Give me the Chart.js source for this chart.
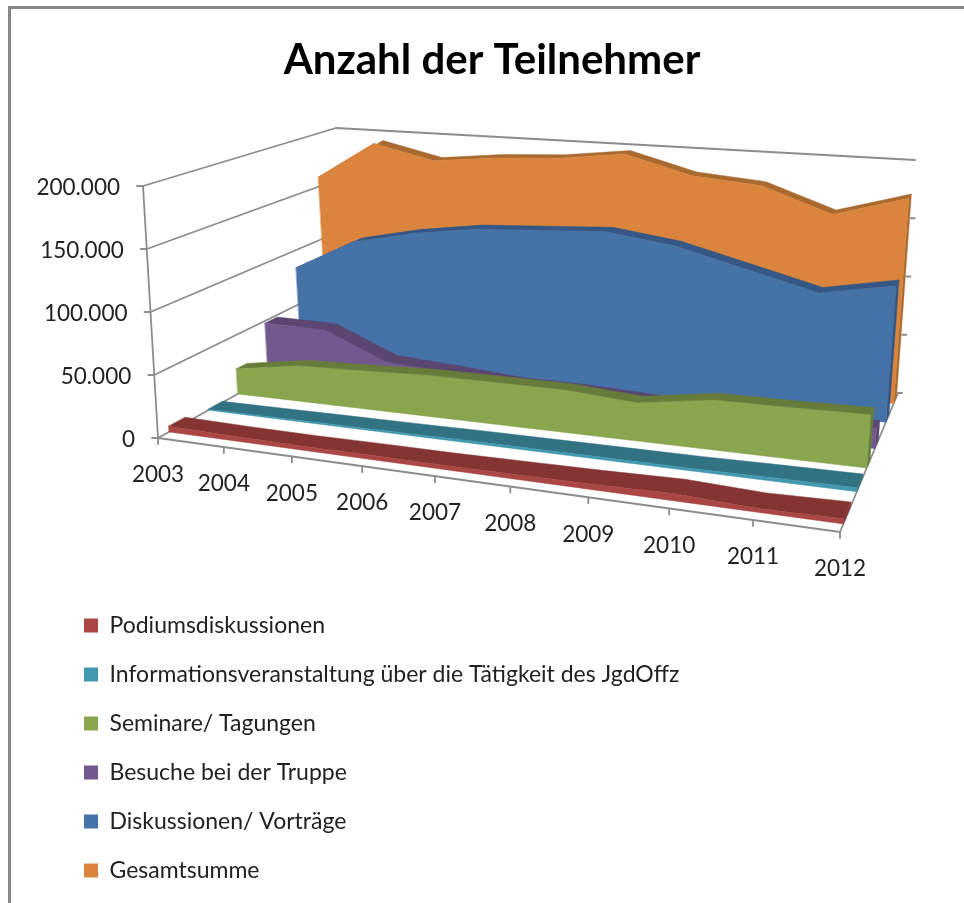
<!DOCTYPE html>
<html>
<head>
<meta charset="utf-8">
<title>Anzahl der Teilnehmer</title>
<script src="https://cdn.jsdelivr.net/npm/chart.js@4"></script>
<style>
  html, body { margin: 0; background: #fff; overflow: hidden; }
  #frame { position: absolute; left: 8px; top: 6px; width: 960px; height: 900px; border-left: 3px solid #888; border-top: 3px solid #888; }
  canvas { position: absolute; left: 0; top: 0; }
</style>
</head>
<body>
<div id="frame"></div>
<canvas id="chart" width="964" height="903"></canvas>
<script>
const years = ['2003', '2004', '2005', '2006', '2007', '2008', '2009', '2010', '2011', '2012'];
const podium = [4500, 3500, 3000, 3200, 3000, 3500, 4000, 5000, 2500, 3500];
const info = [800, 1000, 1300, 1500, 1900, 1900, 1900, 1900, 2500, 2800];
const seminare = [21500, 30000, 31700, 34000, 34000, 34000, 30000, 38600, 39000, 40000];
const besuche = [48000, 47500, 25000, 22000, 18000, 18000, 16000, 15000, 15000, 15500];
const diskussion = [84000, 112000, 124000, 132000, 135000, 138000, 130000, 115000, 100000, 111000];
const gesamt = [159000, 194000, 181000, 187000, 190000, 197000, 181000, 176000, 155000, 172600];

const names = ['Podiumsdiskussionen', 'Informationsveranstaltung über die Tätigkeit des JgdOffz', 'Seminare/ Tagungen',
  'Besuche bei der Truppe', 'Diskussionen/ Vorträge', 'Gesamtsumme'];
const series = [podium, info, seminare, besuche, diskussion, gesamt];
const faceColors = ['#AA4643', '#4198AF', '#89A54E', '#71588F', '#4572A7', '#DB843D'];
const topColors = ['#843432', '#317383', '#677C3A', '#5A4670', '#355785', '#A96A30'];

// the box of the 3D plot on the page: [u, v] corners of the front and the back plane
const front = { x: [[158, 143], [840, 864]], y: [[438, 186], [532, 237]] };
const back = { x: [[348, 336], [898, 915]], y: [[333, 128], [393, 160]] };
const widening = 1.17; // years get wider apart towards the viewer
// depth of each series ribbon, front and back edge, at the first and the last year
const depthLeft = [[.058, .145], [.265, .34], [.42, .475], [.58, .645], [.755, .805], [.895, .945]];
const depthRight = [[.058, .18], [.29, .39], [.46, .517], [.6, .66], [.79, .845], [.925, .975]];

function corner(plane, axis, u, v) {
  const c = plane[axis];
  const bottom = c[0][0] + (c[1][0] - c[0][0]) * u;
  const top = c[0][1] + (c[1][1] - c[0][1]) * u;
  return bottom + (top - bottom) * v;
}

function project(u, v, z) {
  return {
    x: corner(front, 'x', u, v) * (1 - z) + corner(back, 'x', u, v) * z,
    y: corner(front, 'y', u, v) * (1 - z) + corner(back, 'y', u, v) * z
  };
}

function polygon(ctx, pts, color) {
  ctx.beginPath();
  pts.forEach((p, i) => i ? ctx.lineTo(p.x, p.y) : ctx.moveTo(p.x, p.y));
  ctx.closePath();
  ctx.fillStyle = color;
  ctx.fill();
  ctx.strokeStyle = color;
  ctx.lineWidth = 0.5;
  ctx.stroke();
}

function segment(ctx, a, b) {
  ctx.beginPath();
  ctx.moveTo(a.x, a.y);
  ctx.lineTo(b.x, b.y);
  ctx.stroke();
}

const area3d = {
  id: 'area3d',
  beforeDatasetsDraw(chart) {
    const ctx = chart.ctx;
    const xs = chart.scales.x;
    const ys = chart.scales.y;
    const uOf = px => {
      const t = (px - xs.left) / (xs.right - xs.left);
      return t / (t + widening * (1 - t));
    };
    const vOf = py => (ys.bottom - py) / (ys.bottom - ys.top);

    ctx.save();
    ctx.lineCap = 'round';
    ctx.strokeStyle = '#8C8C8C';
    ctx.lineWidth = 1.8;

    // walls and floor
    ys.ticks.forEach(t => {
      const v = vOf(ys.getPixelForValue(t.value));
      const a = project(0, v, 0);
      segment(ctx, a, project(0, v, 1));
      segment(ctx, a, { x: a.x - 6, y: a.y });
      const r = project(1, v, 1);
      if (v < 1) segment(ctx, r, { x: r.x + 4, y: r.y });
    });
    segment(ctx, project(0, 0, 0), project(0, 1, 0));
    segment(ctx, project(0, 1, 1), project(1, 1, 1));
    segment(ctx, project(0, 0, 0), project(1, 0, 0));
    segment(ctx, project(1, 0, 0), project(1, 0, 1));

    // axis labels
    ctx.fillStyle = '#222';
    ctx.font = '22.5px Lato';
    ctx.textBaseline = 'middle';
    ctx.textAlign = 'right';
    ys.ticks.forEach(t => {
      const a = project(0, vOf(ys.getPixelForValue(t.value)), 0);
      ctx.fillText(t.label, a.x - 23, a.y + 1.5);
    });
    ctx.textAlign = 'center';
    years.forEach((year, i) => {
      const a = project(uOf(xs.getPixelForValue(i)), 0, 0);
      segment(ctx, a, { x: a.x, y: a.y + 6 });
      ctx.fillText(year, a.x, a.y + 37);
    });

    // series from the back to the front
    for (let s = series.length - 1; s >= 0; s--) {
      const points = chart.getDatasetMeta(s).data;
      const depth = (u, e) => depthLeft[s][e] + (depthRight[s][e] - depthLeft[s][e]) * u;
      const at = e => points.map(p => {
        const u = uOf(p.x);
        return project(u, vOf(p.y), depth(u, e));
      });
      const base = e => [project(1, 0, depth(1, e)), project(0, 0, depth(0, e))];
      const near = at(0);
      const far = at(1);
      const last = points.length - 1;
      polygon(ctx, near.concat(far.slice().reverse()), topColors[s]);
      polygon(ctx, [near[last], far[last], base(1)[0], base(0)[0]], topColors[s]);
      polygon(ctx, near.concat(base(0)), faceColors[s]);
    }
    ctx.restore();
  }
};

new Chart(document.getElementById('chart'), {
  type: 'line',
  data: {
    labels: years,
    datasets: series.map((values, s) => ({
      label: names[s],
      data: values,
      showLine: false,
      pointRadius: 0,
      borderWidth: 0,
      backgroundColor: faceColors[s],
      borderColor: faceColors[s]
    }))
  },
  options: {
    responsive: false,
    animation: false,
    layout: { padding: { left: 58, right: 38, top: 30, bottom: -5 } },
    scales: {
      x: { display: false },
      y: {
        display: false,
        min: 0,
        max: 200000,
        ticks: { stepSize: 50000, callback: v => v.toLocaleString('de-DE') }
      }
    },
    plugins: {
      title: {
        display: true,
        text: 'Anzahl der Teilnehmer',
        color: '#000',
        font: { family: 'Lato', size: 42, weight: 'bold' },
        padding: { top: 5, bottom: 20 }
      },
      legend: {
        position: 'left',
        align: 'end',
        maxWidth: 800,
        labels: {
          boxWidth: 14,
          boxHeight: 14,
          padding: 26,
          color: '#222',
          font: { family: 'Lato', size: 23 }
        }
      },
      tooltip: { enabled: false }
    }
  },
  plugins: [area3d]
});
</script>
</body>
</html>
